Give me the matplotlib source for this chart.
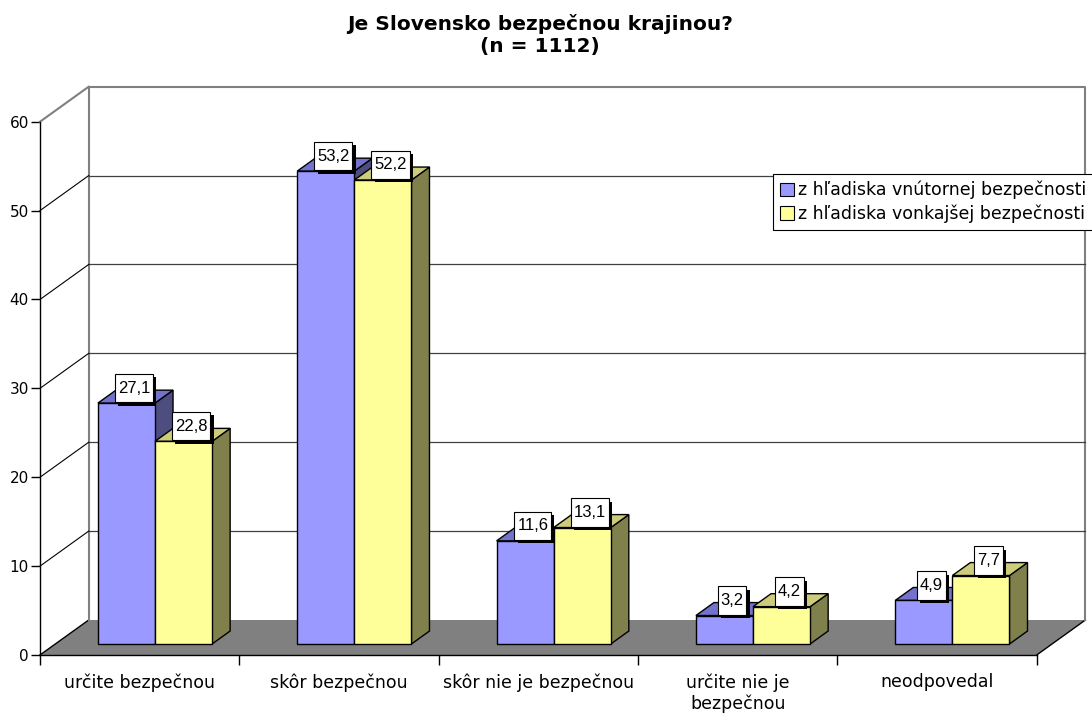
import matplotlib
matplotlib.use("Agg")
import matplotlib.pyplot as plt
from matplotlib.patches import Polygon, Patch
from matplotlib.path import Path
import matplotlib.patheffects as pe

# ---- data ----
categories = ["určite bezpečnou", "skôr bezpečnou", "skôr nie je bezpečnou",
              "určite nie je\nbezpečnou", "neodpovedal"]
series_names = ["z hľadiska vnútornej bezpečnosti", "z hľadiska vonkajšej bezpečnosti"]
internal = [27.1, 53.2, 11.6, 3.2, 4.9]
external = [22.8, 52.2, 13.1, 4.2, 7.7]
labels_internal = ["27,1", "53,2", "11,6", "3,2", "4,9"]
labels_external = ["22,8", "52,2", "13,1", "4,2", "7,7"]
yticks = [0, 10, 20, 30, 40, 50, 60]
title = "Je Slovensko bezpečnou krajinou?\n(n = 1112)"

# ---- styling ----
front_cols = ["#9999FF", "#FFFF99"]
top_cols = ["#7373CC", "#CCCC7A"]
side_cols = ["#4D4D80", "#80804D"]

W, H = 1092, 713
fig = plt.figure(figsize=(W / 100, H / 100), dpi=100)
fig.patch.set_facecolor("white")

left_px, right_px, bot_px, top_px = 40, 1036.7, 655, 121.7
ax = fig.add_axes([left_px / W, (H - bot_px) / H, (right_px - left_px) / W, (bot_px - top_px) / H])
ncat = len(categories)
ymax = 60
ax.set_xlim(0, ncat)
ax.set_ylim(0, ymax)
ax.set_facecolor("none")

px_per_cat = (right_px - left_px) / ncat
px_per_val = (bot_px - top_px) / ymax
DX = 48.7 / px_per_cat
DY = 35.0 / px_per_val


def P(x, y, d):
    return (x + d * DX, y + d * DY)


def label_box(x0, y0, width, height, mutation_size):
    px = 0.17 * mutation_size
    py = 0.40 * mutation_size
    x0, y0 = x0 - px, y0 - py
    x1, y1 = x0 + width + 2 * px, y0 + height + 2 * py
    return Path([(x0, y0), (x1, y0), (x1, y1), (x0, y1), (x0, y0)], closed=True)


z = 1
# floor
ax.add_patch(Polygon([P(0, 0, 0), P(ncat, 0, 0), P(ncat, 0, 1), P(0, 0, 1)],
                     closed=True, facecolor="#808080", edgecolor="none", zorder=z, clip_on=False))
for a, b in [((0, 0, 0), (0, 0, 1)), ((ncat, 0, 0), (ncat, 0, 1))]:
    pa, pb = P(*a), P(*b)
    ax.plot([pa[0], pb[0]], [pa[1], pb[1]], color="black", lw=1, zorder=z + 1, clip_on=False)

# back wall outline
bw = [P(0, 0, 1), P(0, ymax, 1), P(ncat, ymax, 1), P(ncat, 0, 1)]
ax.plot([p[0] for p in bw], [p[1] for p in bw], color="#808080", lw=1.5, zorder=z + 1, clip_on=False)
pa, pb = P(0, ymax, 0), P(0, ymax, 1)
ax.plot([pa[0], pb[0]], [pa[1], pb[1]], color="#808080", lw=1.5, zorder=z + 1, clip_on=False)

# gridlines
for v in yticks[1:-1]:
    pa, pb = P(0, v, 1), P(ncat, v, 1)
    ax.plot([pa[0], pb[0]], [pa[1], pb[1]], color="#404040", lw=0.9, zorder=z + 1, clip_on=False)
    pa, pb = P(0, v, 0), P(0, v, 1)
    ax.plot([pa[0], pb[0]], [pa[1], pb[1]], color="black", lw=0.8, zorder=z + 1, clip_on=False)

# bars
gap = 0.2135
bw_ = (1 - 2 * gap) / 2
d0, d1 = 0.315, 0.685
zb = 10
label_pos = []
for i in range(ncat):
    for s, vals in enumerate([internal, external]):
        v = vals[i]
        x0 = i + gap + s * bw_
        x1 = x0 + bw_
        side = [P(x1, 0, d0), P(x1, 0, d1), P(x1, v, d1), P(x1, v, d0)]
        top = [P(x0, v, d0), P(x1, v, d0), P(x1, v, d1), P(x0, v, d1)]
        front = [P(x0, 0, d0), P(x1, 0, d0), P(x1, v, d0), P(x0, v, d0)]
        for poly, col in [(side, side_cols[s]), (top, top_cols[s]), (front, front_cols[s])]:
            ax.add_patch(Polygon(poly, closed=True, facecolor=col, edgecolor="black",
                                 lw=1, joinstyle="miter", zorder=zb, clip_on=False))
            zb += 1
        label_pos.append((P((x0 + x1) / 2, v, 0.5), [labels_internal, labels_external][s][i]))

for (xy, txt) in label_pos:
    t = ax.annotate(txt, xy=xy, xytext=(-1, 6.2), textcoords="offset points",
                    ha="center", va="center", fontsize=12, family="Liberation Sans",
                    color="black", zorder=200, annotation_clip=False,
                    bbox=dict(boxstyle=label_box, facecolor="white", edgecolor="black", lw=0.8))
    t.get_bbox_patch().set_path_effects([
        pe.SimplePatchShadow(offset=(2.4, -2.4), shadow_rgbFace="black", alpha=1.0),
        pe.Normal()])

# axes / spines
for sp in ["top", "right"]:
    ax.spines[sp].set_visible(False)
for sp in ["left", "bottom"]:
    ax.spines[sp].set_color("black")
    ax.spines[sp].set_linewidth(1)
    ax.spines[sp].set_zorder(5)

ax.set_yticks(yticks)
ax.set_yticklabels([str(v) for v in yticks])
ax.tick_params(axis="y", direction="out", length=6.5, width=1, pad=1.5, labelsize=11, colors="black")

ax.set_xticks(range(ncat + 1))
ax.set_xticklabels([])
ax.tick_params(axis="x", which="major", direction="out", length=7, width=1, colors="black")
ax.set_xticks([i + 0.5 for i in range(ncat)], minor=True)
ax.set_xticklabels(categories, minor=True)
ax.tick_params(axis="x", which="minor", length=0, pad=13, labelsize=12.5)

# legend
handles = [Patch(facecolor=front_cols[k], edgecolor="black", lw=0.8) for k in range(2)]
leg = ax.legend(handles, series_names, loc="upper left",
                bbox_to_anchor=(773 / W, 1 - 174 / H), bbox_transform=fig.transFigure,
                borderaxespad=0, fontsize=12.5, handlelength=0.8, handleheight=0.8,
                handletextpad=0.25, borderpad=0.4, labelspacing=0.3, fancybox=False,
                framealpha=1, edgecolor="black")
leg.get_frame().set_linewidth(0.8)
leg.set_zorder(300)

fig.text(540 / W, 1 - 14 / H, title, ha="center", va="top", fontsize=14.5,
         fontweight="bold", linespacing=1.2)

fig.savefig("out.png", dpi=100)
